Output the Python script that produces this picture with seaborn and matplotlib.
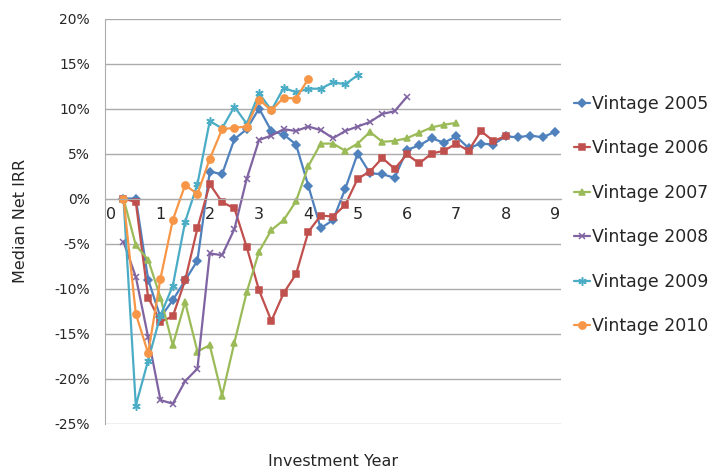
import numpy as np
import pandas as pd
import matplotlib
matplotlib.use("Agg")
import matplotlib.pyplot as plt
import seaborn as sns

# Median net IRR (%) by quarter of fund life, one list per vintage year
vintage_2005 = [0.0, 0.0, -9.0, -13.2, -11.3, -9.1, -6.9, 3.0, 2.7, 6.6, 7.7, 10.0,
                7.5, 7.1, 6.0, 1.4, -3.3, -2.4, 1.1, 5.0, 2.8, 2.7, 2.3, 5.4,
                5.9, 6.7, 6.2, 6.9, 5.6, 6.1, 6.0, 6.9, 6.8, 7.0, 6.8, 7.4]
vintage_2006 = [0.0, -0.4, -11.0, -13.7, -13.1, -9.1, -3.3, 1.6, -0.4, -1.1, -5.4, -10.2,
                -13.6, -10.5, -8.4, -3.7, -1.9, -2.0, -0.7, 2.2, 3.0, 4.5, 3.3, 4.9,
                3.9, 5.0, 5.3, 6.1, 5.3, 7.5, 6.4, 6.9]
vintage_2007 = [0.0, -5.2, -6.8, -11.0, -16.3, -11.5, -17.0, -16.3, -21.9, -16.0, -10.4, -5.9,
                -3.5, -2.4, -0.3, 3.6, 6.1, 6.1, 5.3, 6.1, 7.4, 6.3, 6.4, 6.7,
                7.3, 7.9, 8.2, 8.4]
vintage_2008 = [-4.8, -8.7, -15.4, -22.4, -22.8, -20.3, -18.9, -6.1, -6.3, -3.4, 2.2, 6.5,
                7.0, 7.7, 7.5, 8.0, 7.6, 6.7, 7.5, 8.0, 8.5, 9.4, 9.7, 11.3]
vintage_2009 = [0.0, -23.0, -18.0, -13.0, -9.7, -2.6, 1.6, 8.6, 7.8, 10.2, 8.3, 11.7,
                9.8, 12.3, 11.8, 12.2, 12.2, 12.9, 12.7, 13.7]
vintage_2010 = [0.0, -12.8, -17.2, -8.9, -2.4, 1.5, 0.5, 4.4, 7.7, 7.85, 8.0, 11.0,
                9.8, 11.2, 11.1, 13.3]

series_names = ["Vintage 2005", "Vintage 2006", "Vintage 2007",
                "Vintage 2008", "Vintage 2009", "Vintage 2010"]
series_values = [vintage_2005, vintage_2006, vintage_2007,
                 vintage_2008, vintage_2009, vintage_2010]

# Quarterly category grid (investment year) and axis labels
quarters = np.arange(0.25, 9.01, 0.25)
year_labels = ["0", "1", "2", "3", "4", "5", "6", "7", "8", "9"]
irr_ticks = [-25, -20, -15, -10, -5, 0, 5, 10, 15, 20]
irr_labels = ["-25%", "-20%", "-15%", "-10%", "-5%", "0%", "5%", "10%", "15%", "20%"]

frames = []
for name, vals in zip(series_names, series_values):
    frames.append(pd.DataFrame({"year": quarters[:len(vals)], "irr": vals, "vintage": name}))
df = pd.concat(frames, ignore_index=True)

sns.set_style("white")
plt.rcParams["font.family"] = ["DejaVu Sans"]

colors = ["#4F81BD", "#C0504D", "#9BBB59", "#8064A2", "#4BACC6", "#F79646"]
markers = ["D", "s", "^", "x", (6, 2, 0), "o"]
msizes = [3.8, 5.0, 5.0, 5.0, 6.0, 5.2]

fig = plt.figure(figsize=(7.24, 4.74), dpi=100)
ax = fig.add_axes([105 / 724, 1 - 423.5 / 474, 456 / 724, 405 / 474])

for name, c, m, ms in zip(series_names, colors, markers, msizes):
    sub = df[df["vintage"] == name]
    sns.lineplot(data=sub, x="year", y="irr", ax=ax, color=c, marker=m,
                 markersize=ms, markeredgecolor=c, markerfacecolor=c,
                 markeredgewidth=1.1, linewidth=1.6, label=name)

grid_c = "#ABABAB"
ax.set_xlim(-0.125, 9.125)
ax.set_ylim(-25, 20)
ax.set_yticks(irr_ticks)
ax.set_yticklabels(irr_labels)
ax.set_xticks(range(len(year_labels)))
ax.set_xticklabels(year_labels)
ax.set_xticks(np.arange(-0.125, 9.126, 0.25)[1:], minor=True)

ax.yaxis.grid(True, color=grid_c, linewidth=1.0)
ax.set_axisbelow(True)

for s in ["top", "right"]:
    ax.spines[s].set_visible(False)
ax.spines["left"].set_color(grid_c)
ax.spines["bottom"].set_color(grid_c)
ax.spines["bottom"].set_position(("data", 0))

ax.tick_params(axis="y", which="major", direction="out", length=4, width=1,
               color=grid_c, pad=7, labelsize=10, labelcolor="#262626")
ax.tick_params(axis="x", which="major", length=0, pad=6, labelsize=11.5,
               labelcolor="#262626")
ax.tick_params(axis="x", which="minor", direction="out", length=4, width=1,
               color=grid_c)

ax.set_xlabel("Investment Year", fontsize=11.5, color="#262626")
ax.set_ylabel("Median Net IRR", fontsize=11.5, color="#262626")
ax.xaxis.label.set_va("center")
ax.yaxis.label.set_va("center")
ax.xaxis.set_label_coords(0.5, (423.5 - 462) / 405)
ax.yaxis.set_label_coords((20 - 105) / 456, 0.5)

ax.legend(loc="center left", bbox_to_anchor=(574 / 724, 1 - 215 / 474),
          bbox_transform=fig.transFigure, frameon=False, fontsize=12.5,
          handlelength=0.9, handletextpad=0.15, labelspacing=1.52,
          borderpad=0, borderaxespad=0, labelcolor="#262626")

fig.savefig("out.png", dpi=100)
